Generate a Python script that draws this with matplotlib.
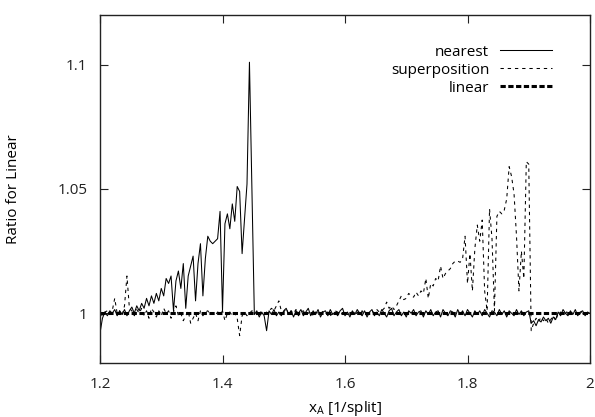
import numpy as np
import matplotlib
matplotlib.use("Agg")
import matplotlib.pyplot as plt

# samples every 0.004 from 1.2 to 2.0
x_start = 1.2
x_step = 0.004

# deviation from 1, in thousandths (ratio = 1 + dev/1000)
nearest_dev = [
    -8, -2, 0.5, -1, 1, 0, 1.5, -1, 1, -0.5,
    1.5, -1, 1, 2.5, 0, 3, 1, 4, 2, 6,
    3, 7, 4, 8, 5, 10, 7, 14, 12, 15,
    1, 13, 17, 10, 20, 2, 15, 19, 23, 5,
    20, 28, 7, 22, 31, 29, 28, 29, 30, 41,
    1, 36, 40, 34, 44, 37, 51, 49, 24, 38,
    52, 101, 50, -0.5,
    1, -1.5, 0.5, -1, -7, 1, -0.5, 1.5, -1, 0.5,
    -1, 1, 2, -0.5, 1, -1.5, 1, 0, 1.5, -1,
    0.5, 2, -1, 1, -0.5, 1.5, -1.5, 0.5, 1, -1,
    1.5, -0.5, 0.5, -1, 1, 2, -1, 0.5, -1.5, 1,
    -0.5, 1.5, 0, -1, 1, -1.5, 0.5, 1.5, -1, 0.5,
    -1, 1.5, 0, -1.5, 1, 2, -1, 0.5, 1.5, -1,
    0.5, -1.5, 1, 0, 1.5, -1, 0.5, 1, -1.5, 1,
    -0.5, 1.5, -1, 0.5, 1, -1.5, 1.5, 0, -1, 1,
    0.5, -1.5, 1.5, -0.5, 1, -1, 1.5, 0, -1.5, 1,
    -0.5, 1, -1, 1.5, 0, -1.5, 1, 0.5, -1, 1.5,
    -0.5, 1, -1.5, 1, 0, -1, 1.5, -0.5, 1, -1,
    0.5, 1,
    -4, -3, -5, -2.5, -3.5, -1.5, -3, -2, -4, -1.5, -2.5, 0.5,
    -1, 1.5, 0, -1, 1, -0.5, 1.5, -1, 0.5, 1, -1, 0.5, 0,
]

superposition_dev = [
    0, -1, 0.5, 1, -0.5, 1, 6, 0, 1, -1,
    3, 15, 2, 1, -1, 1.5, 0, 2, -1, 1,
    -2, 2, 0.5, -1.5, 1, -1, 2, 0, 1, -2,
    0.5, 3, -1, 0, -3, -1, 1, -4, -2, 0,
    -3, 1, -1, 0.5, 1, -0.5, 0, -1, 0.5, 0,
    1, -3, 0, 0.5, -1, 0, -2, -9, -1, 0.5,
    -1, 0, 1, 0.5, -0.5, 1, 0, -1, 0.5, 1,
    2, 1, 3, 5, 1, 0.5, 2, -0.5, 1, 0,
    1.5, -1, 0.5, 1, -0.5, 0, 1, -1, 0.5, 0,
    -0.5, 1, 0, 0.5, -1, 0, 1, 0.5, -0.5, 0,
    1, -0.5, 0, 0.5, -1, 0.5, 0, 1, -0.5, 0,
    0.5, 1, 0, 1.5, 0.5,
    1, 2, 4.5, 2, 3, 1.5, 3, 5, 7, 5.5,
    6, 8, 7, 6.5, 8.5, 7, 9, 8, 14, 6,
    12, 11, 14, 13, 19, 14, 16, 17, 18, 20,
    21, 21, 20.5, 22, 31, 12, 24, 9, 26, 35.5,
    29, 37.5, 9, 1, 42, 30, 1, 39, 41, 40,
    41.5, 46, 59, 55, 48, 31, 9, 25, 14, 61,
    60,
    -7, -4, -2, -3.5, -1.5, -3, -2, -4, -2.5, -1, -3, 0,
    0.5, -1, 0, 1, -0.5, 0, 0.5, -1, 0, 1, -0.5, 0, 0.5,
]

linear_x = [1.2, 2.0]
linear_y = [1.0, 1.0]

xs = x_start + x_step * np.arange(len(nearest_dev))
nearest = 1 + np.array(nearest_dev) / 1000
superposition = 1 + np.array(superposition_dev) / 1000

plt.rcParams['font.family'] = ['Open Sans', 'DejaVu Sans']
plt.rcParams['mathtext.default'] = 'regular'
plt.rcParams['lines.scale_dashes'] = False

fig = plt.figure(figsize=(5.95, 4.17), dpi=100)
ax = fig.add_axes([100 / 595, 54 / 417, 490 / 595, 348 / 417])

ax.plot(xs, nearest, color="black", lw=0.75, label="nearest")
ax.plot(xs, superposition, color="black", lw=0.75, dashes=(2.4, 2.8),
        label="superposition")
ax.plot(linear_x, linear_y, color="black", lw=2.2, dashes=(3.8, 1.8),
        label="linear")

ax.set_xlim(1.2, 2.0)
ax.set_ylim(0.98, 1.12)
ax.set_xticks([1.2, 1.4, 1.6, 1.8, 2.0])
ax.set_xticklabels(["1.2", "1.4", "1.6", "1.8", "2"])
ax.set_yticks([1.0, 1.05, 1.1])
ax.set_yticklabels(["1", "1.05", "1.1"])
ax.tick_params(direction="in", top=True, right=True, length=5.8, width=0.8,
               labelsize=11, colors="#222222")
ax.tick_params(axis="x", pad=10)
ax.tick_params(axis="y", pad=9)
for s in ax.spines.values():
    s.set_linewidth(1.0)
    s.set_color("#222222")

ax.set_xlabel("x$_A$ [1/split]", fontsize=11, labelpad=5)
ax.set_ylabel("Ratio for Linear", fontsize=11, labelpad=26)

ax.legend(loc="upper right", bbox_to_anchor=(0.922, 0.915), frameon=False,
          markerfirst=False, fontsize=11, handlelength=3.4, handletextpad=0.7,
          labelspacing=0.2, borderpad=0, borderaxespad=0)

fig.savefig("out.png", dpi=100)
